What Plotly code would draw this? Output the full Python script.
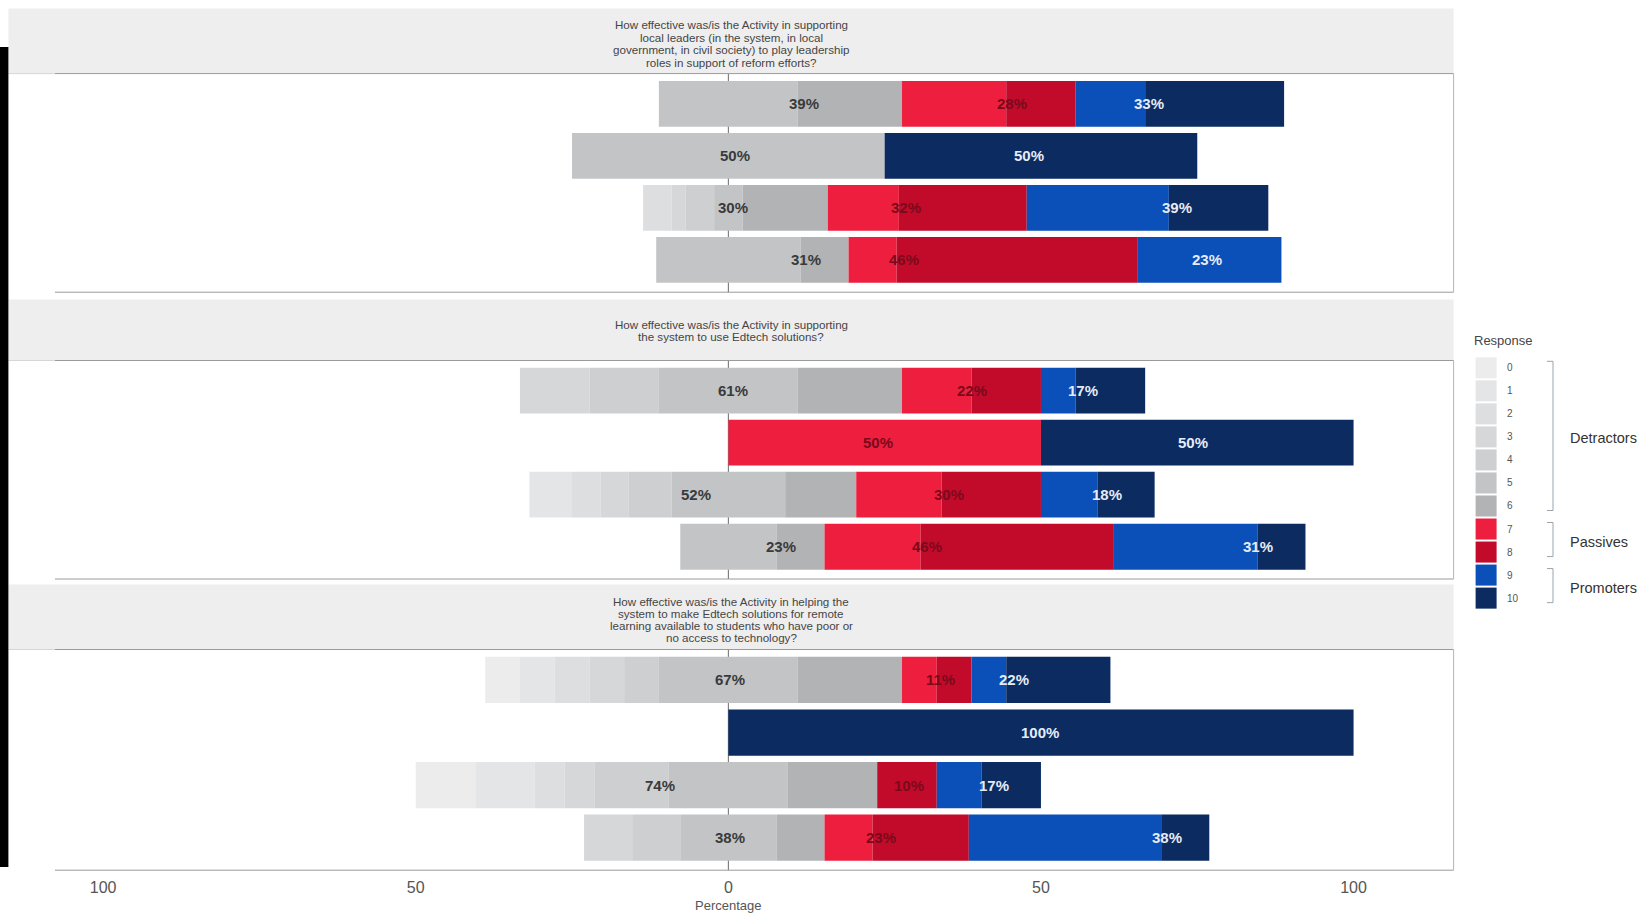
import plotly.graph_objects as go

W, H = 1648, 914

# ---------------- data ----------------
responses = [str(i) for i in range(11)]
groups = ["Group 1", "Group 2", "Group 3", "Group 4"]
questions = [
    ["How effective was/is the Activity in supporting", "local leaders (in the system, in local",
     "government, in civil society) to play leadership", "roles in support of reform efforts?"],
    ["How effective was/is the Activity in supporting", "the system to use Edtech solutions?"],
    ["How effective was/is the Activity in helping the", "system to make Edtech solutions for remote",
     "learning available to students who have poor or", "no access to technology?"],
]

# number of answers per response 0..10, one row per bar
q1_counts = [
    [0, 0, 0, 0, 0, 4, 3, 3, 2, 2, 4],
    [0, 0, 0, 0, 0, 1, 0, 0, 0, 0, 1],
    [0, 0, 2, 1, 2, 2, 6, 5, 9, 10, 7],
    [0, 0, 0, 0, 0, 3, 1, 1, 5, 3, 0],
]
q2_counts = [
    [0, 0, 0, 2, 2, 4, 3, 2, 2, 1, 2],
    [0, 0, 0, 0, 0, 0, 0, 1, 0, 0, 1],
    [0, 3, 2, 2, 3, 8, 5, 6, 7, 4, 4],
    [0, 0, 0, 0, 0, 2, 1, 2, 4, 3, 1],
]
q3_counts = [
    [1, 1, 1, 1, 1, 4, 3, 1, 1, 1, 3],
    [0, 0, 0, 0, 0, 0, 0, 0, 0, 0, 1],
    [4, 4, 2, 2, 5, 8, 6, 0, 4, 3, 4],
    [0, 0, 0, 1, 1, 2, 1, 1, 2, 4, 1],
]
all_counts = [q1_counts, q2_counts, q3_counts]

nps_names = ["Detractors", "Passives", "Promoters"]
nps_members = [list(range(0, 7)), [7, 8], [9, 10]]

# ---------------- styles / layout ----------------
resp_colors = ["#ececec", "#e4e5e6", "#dcdee0", "#d5d7d9", "#cdcfd1", "#c2c4c6",
               "#b1b3b5", "#ee1e3e", "#c20a2b", "#0b50b9", "#0b2b61"]
label_colors = ["#3a3a3a", "#7a0a1a", "#e6ecf7"]
# x positions (percent units) of the group labels, per bar: detractors, passives, promoters
label_x_q1 = [[12.1, 45.4, 67.2], [1.0, None, 48.1], [0.8, 28.4, 71.8], [12.4, 28.1, 76.6]]
label_x_q2 = [[0.8, 39.0, 56.8], [None, 23.9, 74.3], [-5.2, 35.3, 60.5], [8.4, 31.8, 84.7]]
label_x_q3 = [[0.3, 33.9, 45.7], [None, None, 49.9], [-10.9, 28.9, 42.5], [0.2, 24.4, 70.1]]
label_xs = [label_x_q1, label_x_q2, label_x_q3]

FONT = "Liberation Sans, Arial, sans-serif"
panels_px = [(73.6, 292.2), (360.5, 579.0), (649.5, 870.2)]
strips_px = [(8.4, 73.6), (299.5, 360.5), (584.4, 649.5)]
strip_text_px = [(24.0, 13.0), (324.8, 12.0), (601.2, 12.0)]  # first line centre, line step
X_LEFT, X_RIGHT = 55.0, 1453.6
STRIP_LEFT = 8.4
XRANGE = [-107.7, 116.0]


def px(x):
    return x / W


def py(y):
    return 1 - y / H


fig = go.Figure()
shapes = []
annotations = []
layout_axes = {}

for qi, counts in enumerate(all_counts):
    ax = "" if qi == 0 else str(qi + 1)
    xref, yref = "x" + ax, "y" + ax
    pcts = [[c / sum(row) * 100 for c in row] for row in counts]
    lefts = [-(sum(p[0:5]) + p[5] / 2) for p in pcts]
    for r in range(11):
        bases = [lefts[b] + sum(pcts[b][:r]) for b in range(len(groups))]
        vals = [pcts[b][r] for b in range(len(groups))]
        fig.add_trace(go.Bar(
            y=groups, x=vals, base=bases, orientation="h",
            marker=dict(color=resp_colors[r], line=dict(width=0)),
            width=0.88, name=responses[r], showlegend=False,
            xaxis=xref, yaxis=yref, hoverinfo="skip",
        ))
    # group labels
    for b in range(len(groups)):
        for gi, members in enumerate(nps_members):
            tot = sum(pcts[b][m] for m in members)
            lx = label_xs[qi][b][gi]
            if tot <= 0 or lx is None:
                continue
            annotations.append(dict(
                x=lx, y=groups[b], xref=xref, yref=yref, text=f"{round(tot)}%",
                showarrow=False, xanchor="center", yanchor="middle",
                font=dict(family=FONT, size=15, color=label_colors[gi], weight="bold"),
            ))

    top, bot = panels_px[qi]
    layout_axes["xaxis" + ax] = dict(
        domain=[px(X_LEFT), px(X_RIGHT)], range=XRANGE, anchor=yref,
        showgrid=False, zeroline=False, showline=False, ticks="",
        tickvals=[-100, -50, 0, 50, 100], ticktext=["100", "50", "0", "50", "100"],
        showticklabels=(qi == 2), ticklabelstandoff=6,
        tickfont=dict(family=FONT, size=16, color="#555555"),
    )
    layout_axes["yaxis" + ax] = dict(
        domain=[py(bot), py(top)], anchor=xref, type="category",
        categoryorder="array", categoryarray=groups, range=[3.62, -0.58],
        showgrid=False, zeroline=False, showticklabels=False, ticks="", showline=False,
    )
    # zero reference line behind bars
    shapes.append(dict(type="line", xref=xref, yref=yref + " domain", x0=0, x1=0, y0=0, y1=1,
                       line=dict(color="#6a6a6a", width=1), layer="below"))
    # strip
    s_top, s_bot = strips_px[qi]
    shapes.append(dict(type="rect", xref="paper", yref="paper",
                       x0=px(STRIP_LEFT), x1=px(X_RIGHT), y0=py(s_bot), y1=py(s_top),
                       fillcolor="#eeeeee", line=dict(width=0), layer="below"))
    y_first, y_step = strip_text_px[qi]
    for li, line in enumerate(questions[qi]):
        annotations.append(dict(
            x=px((STRIP_LEFT + X_RIGHT) / 2), y=py(y_first + li * y_step), xref="paper", yref="paper",
            text=line, showarrow=False, xanchor="center", yanchor="middle", align="center",
            font=dict(family=FONT, size=11.6, color="#454545"),
        ))
    # panel borders
    shapes.append(dict(type="line", xref="paper", yref="paper", x0=px(STRIP_LEFT), x1=px(X_LEFT),
                       y0=py(top), y1=py(top), line=dict(color="#d6d6d6", width=1)))
    shapes.append(dict(type="line", xref="paper", yref="paper", x0=px(X_LEFT), x1=px(X_RIGHT),
                       y0=py(top), y1=py(top), line=dict(color="#9a9a9a", width=1)))
    shapes.append(dict(type="line", xref="paper", yref="paper", x0=px(X_LEFT), x1=px(X_RIGHT),
                       y0=py(bot), y1=py(bot), line=dict(color="#9a9a9a", width=1)))
    shapes.append(dict(type="line", xref="paper", yref="paper", x0=px(X_RIGHT), x1=px(X_RIGHT),
                       y0=py(bot), y1=py(top), line=dict(color="#b5b5b5", width=1)))

# axis title
annotations.append(dict(x=0, y=py(905), xref="x3", yref="paper", text="Percentage",
                        showarrow=False, xanchor="center", yanchor="middle",
                        font=dict(family=FONT, size=13, color="#555555")))

# black edge at the left
shapes.append(dict(type="rect", xref="paper", yref="paper", x0=0, x1=px(8.4), y0=py(867), y1=py(47),
                   fillcolor="#000000", line=dict(width=0)))

# ---------------- custom legend ----------------
SW_X0, SW_X1 = 1475.6, 1496.6
SW_TOP, SW_H = 356.3, 23.03
annotations.append(dict(x=px(1472), y=py(340.5), xref="paper", yref="paper", text="Response",
                        showarrow=False, xanchor="left", yanchor="middle",
                        font=dict(family=FONT, size=13, color="#444444")))
for r in range(11):
    y0 = SW_TOP + r * SW_H
    shapes.append(dict(type="rect", xref="paper", yref="paper", x0=px(SW_X0), x1=px(SW_X1),
                       y0=py(y0 + SW_H - 1), y1=py(y0 + 1), fillcolor=resp_colors[r], line=dict(width=0)))
    annotations.append(dict(x=px(1505), y=py(y0 + SW_H / 2), xref="paper", yref="paper",
                            text=responses[r], showarrow=False, xanchor="left", yanchor="middle",
                            font=dict(family=FONT, size=10, color="#555555")))
BR_X = 1553
for gi, members in enumerate(nps_members):
    y_a = SW_TOP + members[0] * SW_H + 5
    y_b = SW_TOP + (members[-1] + 1) * SW_H - 7
    path = (f"M {px(BR_X - 6)} {py(y_a)} L {px(BR_X)} {py(y_a)} L {px(BR_X)} {py(y_b)} "
            f"L {px(BR_X - 6)} {py(y_b)}")
    shapes.append(dict(type="path", xref="paper", yref="paper", path=path,
                       line=dict(color="#9aa4ae", width=1)))
    annotations.append(dict(x=px(1568), y=py((y_a + y_b) / 2 + 2), xref="paper", yref="paper",
                            text=nps_names[gi], showarrow=False, xanchor="left", yanchor="middle",
                            font=dict(family=FONT, size=14.5, color="#333333")))

fig.update_layout(
    width=W, height=H, autosize=False,
    margin=dict(l=0, r=0, t=0, b=0),
    paper_bgcolor="white", plot_bgcolor="white",
    barmode="overlay", showlegend=False,
    shapes=shapes, annotations=annotations,
    **layout_axes,
)

fig.write_html("out.html", config={"displayModeBar": False},
               post_script="document.body.style.margin='0px';document.body.style.overflow='hidden';")
